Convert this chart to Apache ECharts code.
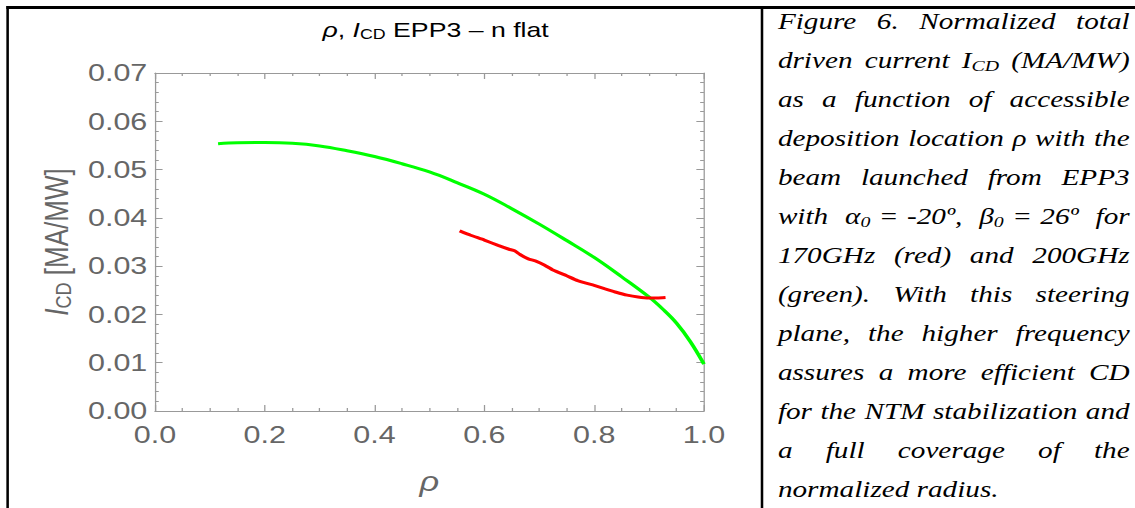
<!DOCTYPE html>
<html>
<head>
<meta charset="utf-8">
<script src="https://cdn.jsdelivr.net/npm/echarts@6/dist/echarts.min.js"></script>
<style>
  html, body { margin: 0; padding: 0; background: #fff; overflow: hidden; }
  /* the source figure is stretched sideways, so the whole page is laid out narrow and widened */
  .page {
    position: relative; width: 894px; height: 508px; overflow: hidden;
    transform: scaleX(1.27); transform-origin: 0 0;
  }
  .frame {
    position: absolute; left: 4.7px; top: 5.5px; width: 1000px; height: 600px;
    border-left: 2.4px solid #000; border-top: 3px solid #000;
  }
  .divider { position: absolute; left: 599px; top: 5.5px; width: 2.3px; height: 520px; background: #000; }
  #chart { position: absolute; left: 0; top: 0; width: 599px; height: 508px; }
  .caption {
    position: absolute; left: 612.5px; top: 2px; width: 277px;
    font-family: "Liberation Serif", "Times New Roman", serif;
    font-style: italic; font-size: 23px; line-height: 39px; color: #000;
  }
  .caption div { text-align: justify; text-align-last: justify; white-space: nowrap; }
  .caption div.last { text-align-last: left; }
  .caption sub { font-size: 0.68em; vertical-align: -0.22em; line-height: 0; }
</style>
</head>
<body>
<div class="page">
  <div class="frame"></div>
  <div class="divider"></div>
  <div id="chart"></div>
  <div class="caption">
    <div>Figure 6. Normalized total</div>
    <div>driven current I<sub>CD</sub> (MA/MW)</div>
    <div>as a function of accessible</div>
    <div>deposition location ρ with the</div>
    <div>beam launched from EPP3</div>
    <div>with &nbsp;α<sub>0</sub> = -20º, &nbsp;β<sub>0</sub> = 26º &nbsp;for</div>
    <div>170GHz (red) and 200GHz</div>
    <div>(green). With this steering</div>
    <div>plane, the higher frequency</div>
    <div>assures a more efficient CD</div>
    <div>for the NTM stabilization and</div>
    <div>a full coverage of the</div>
    <div class="last">normalized radius.</div>
  </div>
</div>

<script>
// 200 GHz (green)
const greenRho = [0.115, 0.15, 0.20, 0.25, 0.30, 0.35, 0.40, 0.45, 0.50, 0.55, 0.60,
  0.65, 0.70, 0.75, 0.80, 0.85, 0.90, 0.925, 0.95, 0.975, 1.0];
const greenIcd = [0.05535, 0.05555, 0.0556, 0.05545, 0.0549, 0.0539, 0.0527, 0.0512, 0.0495, 0.0473, 0.0449,
  0.0419, 0.0387, 0.0353, 0.0318, 0.0278, 0.0236, 0.0211, 0.0182, 0.0144, 0.0097];

// 170 GHz (red)
const redRho = [0.555, 0.575, 0.60, 0.625, 0.645, 0.655, 0.665, 0.68, 0.695, 0.71, 0.725, 0.75,
  0.77, 0.80, 0.82, 0.84, 0.86, 0.88, 0.90, 0.915, 0.93];
const redIcd = [0.0373, 0.0364, 0.0354, 0.0343, 0.0335, 0.0332, 0.0324, 0.0315, 0.0310, 0.0302, 0.0292,
  0.0280, 0.0270, 0.0260, 0.0253, 0.0246, 0.0240, 0.0236, 0.0234, 0.0234, 0.0235];

const xMin = 0, xMax = 1, xStep = 0.2;
const yMin = 0, yMax = 0.07, yStep = 0.01;

const font = '"Liberation Sans", Arial, sans-serif';
const frameColor = '#999';
const labelColor = '#666';

function pairs(xs, ys) {
  return xs.map((x, i) => [x, ys[i]]);
}

function xAxisOf(pos, withLabels) {
  return {
    type: 'value', position: pos, min: xMin, max: xMax, interval: xStep,
    axisLine: { show: true, onZero: false, lineStyle: { color: frameColor, width: 1 } },
    axisTick: { show: true, inside: true, length: 6, lineStyle: { color: frameColor } },
    minorTick: { show: true, splitNumber: 4, length: 3, lineStyle: { color: frameColor } },
    splitLine: { show: false },
    axisLabel: {
      show: withLabels, fontSize: 24, color: labelColor, fontFamily: font, margin: 12,
      formatter: v => v.toFixed(1)
    },
    name: withLabels ? 'ρ' : '',
    nameLocation: 'middle', nameGap: 57,
    nameTextStyle: { fontSize: 27, color: labelColor, fontFamily: font, fontStyle: 'italic' }
  };
}

function yAxisOf(pos, withLabels) {
  return {
    type: 'value', position: pos, min: yMin, max: yMax, interval: yStep,
    axisLine: { show: true, onZero: false, lineStyle: { color: frameColor, width: 1 } },
    axisTick: { show: true, inside: true, length: 6, lineStyle: { color: frameColor } },
    minorTick: { show: true, splitNumber: 5, length: 3, lineStyle: { color: frameColor } },
    splitLine: { show: false },
    axisLabel: {
      show: withLabels, fontSize: 24, color: labelColor, fontFamily: font, margin: 6,
      formatter: v => v.toFixed(2)
    },
    name: withLabels ? '{it|I}{sub|CD} [MA/MW]' : '',
    nameLocation: 'middle', nameGap: 60, nameRotate: 90,
    nameTextStyle: {
      fontSize: 26, color: labelColor, fontFamily: font,
      rich: {
        it: { fontSize: 26, fontStyle: 'italic', color: labelColor, fontFamily: font },
        sub: { fontSize: 18, color: labelColor, fontFamily: font, padding: [10, 0, 0, 0] }
      }
    }
  };
}

const chart = echarts.init(document.getElementById('chart'), null, { renderer: 'svg' });
chart.setOption({
  animation: false,
  title: {
    text: '{it|ρ}, {it|I}{sub|CD} EPP3 – n flat',
    left: 338, top: 13, textAlign: 'center',
    textStyle: {
      fontSize: 21, fontWeight: 'normal', color: '#000', fontFamily: font,
      rich: {
        it: { fontSize: 21, fontStyle: 'italic', color: '#000', fontFamily: font },
        sub: { fontSize: 14, color: '#000', fontFamily: font, padding: [9, 0, 0, 0] }
      }
    }
  },
  grid: { left: 122, top: 73, right: 44.7, bottom: 97, containLabel: false },
  xAxis: [xAxisOf('bottom', true), xAxisOf('top', false)],
  yAxis: [yAxisOf('left', true), yAxisOf('right', false)],
  series: [
    {
      name: '200 GHz', type: 'line', data: pairs(greenRho, greenIcd),
      smooth: 0.4, showSymbol: false,
      lineStyle: { color: '#00ff00', width: 3 }
    },
    {
      name: '170 GHz', type: 'line', data: pairs(redRho, redIcd),
      smooth: 0.15, showSymbol: false, lineStyle: { color: '#ff0000', width: 3 }
    }
  ]
});
</script>
</body>
</html>
